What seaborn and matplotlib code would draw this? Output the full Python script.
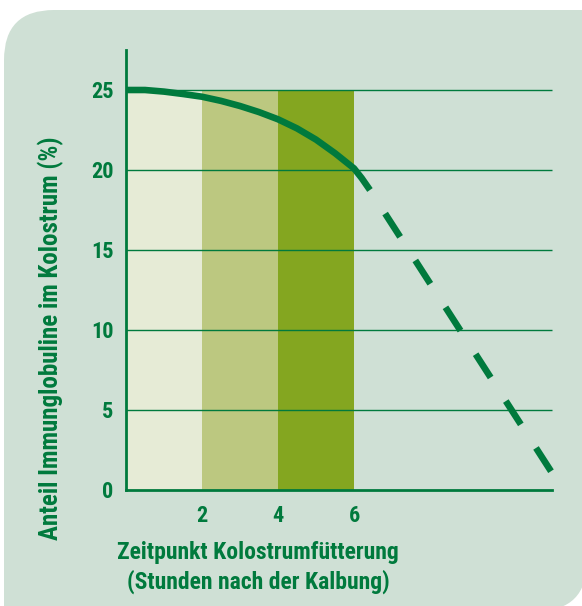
import matplotlib.pyplot as plt
from matplotlib.patches import FancyBboxPatch, Rectangle
import seaborn as sns

# Kolostrum data
bar_start = [0, 2, 4]
bar_width = [2, 2, 2]
bar_height = [25, 25, 25]
bar_colors = ["#e6ebd6", "#bcc880", "#84a620"]

curve_x = [0, 0.5, 1, 1.5, 2, 2.5, 3, 3.5, 4, 4.5, 5, 5.5, 6, 6.2, 6.42]
curve_y = [25.0, 25.0, 24.9, 24.75, 24.58, 24.32, 24.0, 23.62, 23.17, 22.6, 21.9, 21.05, 20.1, 19.5, 18.75]

dash_x = [6.42, 11.22]
dash_y = [18.75, 1.04]

y_ticks = [0, 5, 10, 15, 20, 25]
x_ticks = [2, 4, 6]

green = "#007a3d"
panel = "#cfe0d5"

sns.set_style("white")
plt.rcParams["font.family"] = ["Roboto Condensed", "Roboto", "DejaVu Sans"]
plt.rcParams["font.weight"] = "bold"

fig = plt.figure(figsize=(5.82, 6.06), dpi=100)
fig.patch.set_facecolor("white")

# background panel: rounded top-left and bottom-right corners only (inches)
bg = FancyBboxPatch((0.04, -0.05), 5.83, 6.01,
                    boxstyle="round,pad=0,rounding_size=0.5",
                    transform=fig.dpi_scale_trans, facecolor=panel,
                    edgecolor="none", zorder=-5)
fig.patches.append(bg)
fig.patches.append(Rectangle((5.2, 5.2), 0.7, 0.76, transform=fig.dpi_scale_trans,
                             facecolor=panel, edgecolor="none", zorder=-4))
fig.patches.append(Rectangle((0.04, -0.1), 0.7, 0.7, transform=fig.dpi_scale_trans,
                             facecolor=panel, edgecolor="none", zorder=-4))

ax = fig.add_axes([126 / 582, 116 / 606, 11.5 * 38 / 582, 440 / 606])
ax.set_zorder(2)
ax.set_facecolor("none")

ax.bar(bar_start, bar_height, width=bar_width, align="edge",
       color=bar_colors, edgecolor="none", zorder=1)

ax.hlines(y_ticks[1:], 0, 11.2, color=green, lw=1.0, zorder=2)

sns.lineplot(x=curve_x, y=curve_y, ax=ax, color=green, lw=4.75,
             solid_capstyle="butt", zorder=3)
sns.lineplot(x=dash_x, y=dash_y, ax=ax, color=green, lw=4.75,
             linestyle=(4.2, (4.2, 4.25)), dash_capstyle="butt", zorder=3)

ax.set_xlim(0, 11.5)
ax.set_ylim(0, 27.5)

for s in ["top", "right"]:
    ax.spines[s].set_visible(False)
ax.spines["left"].set_color(green)
ax.spines["left"].set_linewidth(2.0)
ax.spines["bottom"].set_color(green)
ax.spines["bottom"].set_linewidth(2.0)
ax.spines["bottom"].set_bounds(0, 11.2)

ax.set_xticks(x_ticks)
ax.set_yticks(y_ticks)
ax.tick_params(axis="both", length=0, labelcolor=green, labelsize=16)
ax.tick_params(axis="x", pad=11)
ax.tick_params(axis="y", pad=9)
for lab in ax.get_xticklabels() + ax.get_yticklabels():
    lab.set_fontweight("bold")

fig.text(258 / 582, 1 - 541 / 606,
         "Zeitpunkt Kolostrumfütterung\n(Stunden nach der Kalbung)",
         ha="center", va="top", color=green, fontsize=17,
         fontweight="bold", linespacing=1.3)
fig.text(51 / 582, 1 - 338 / 606, "Anteil Immunglobuline im Kolostrum (%)",
         ha="center", va="center", rotation=90, color=green, fontsize=18,
         fontweight="bold")

fig.savefig("out.png", dpi=100, facecolor=fig.get_facecolor())
